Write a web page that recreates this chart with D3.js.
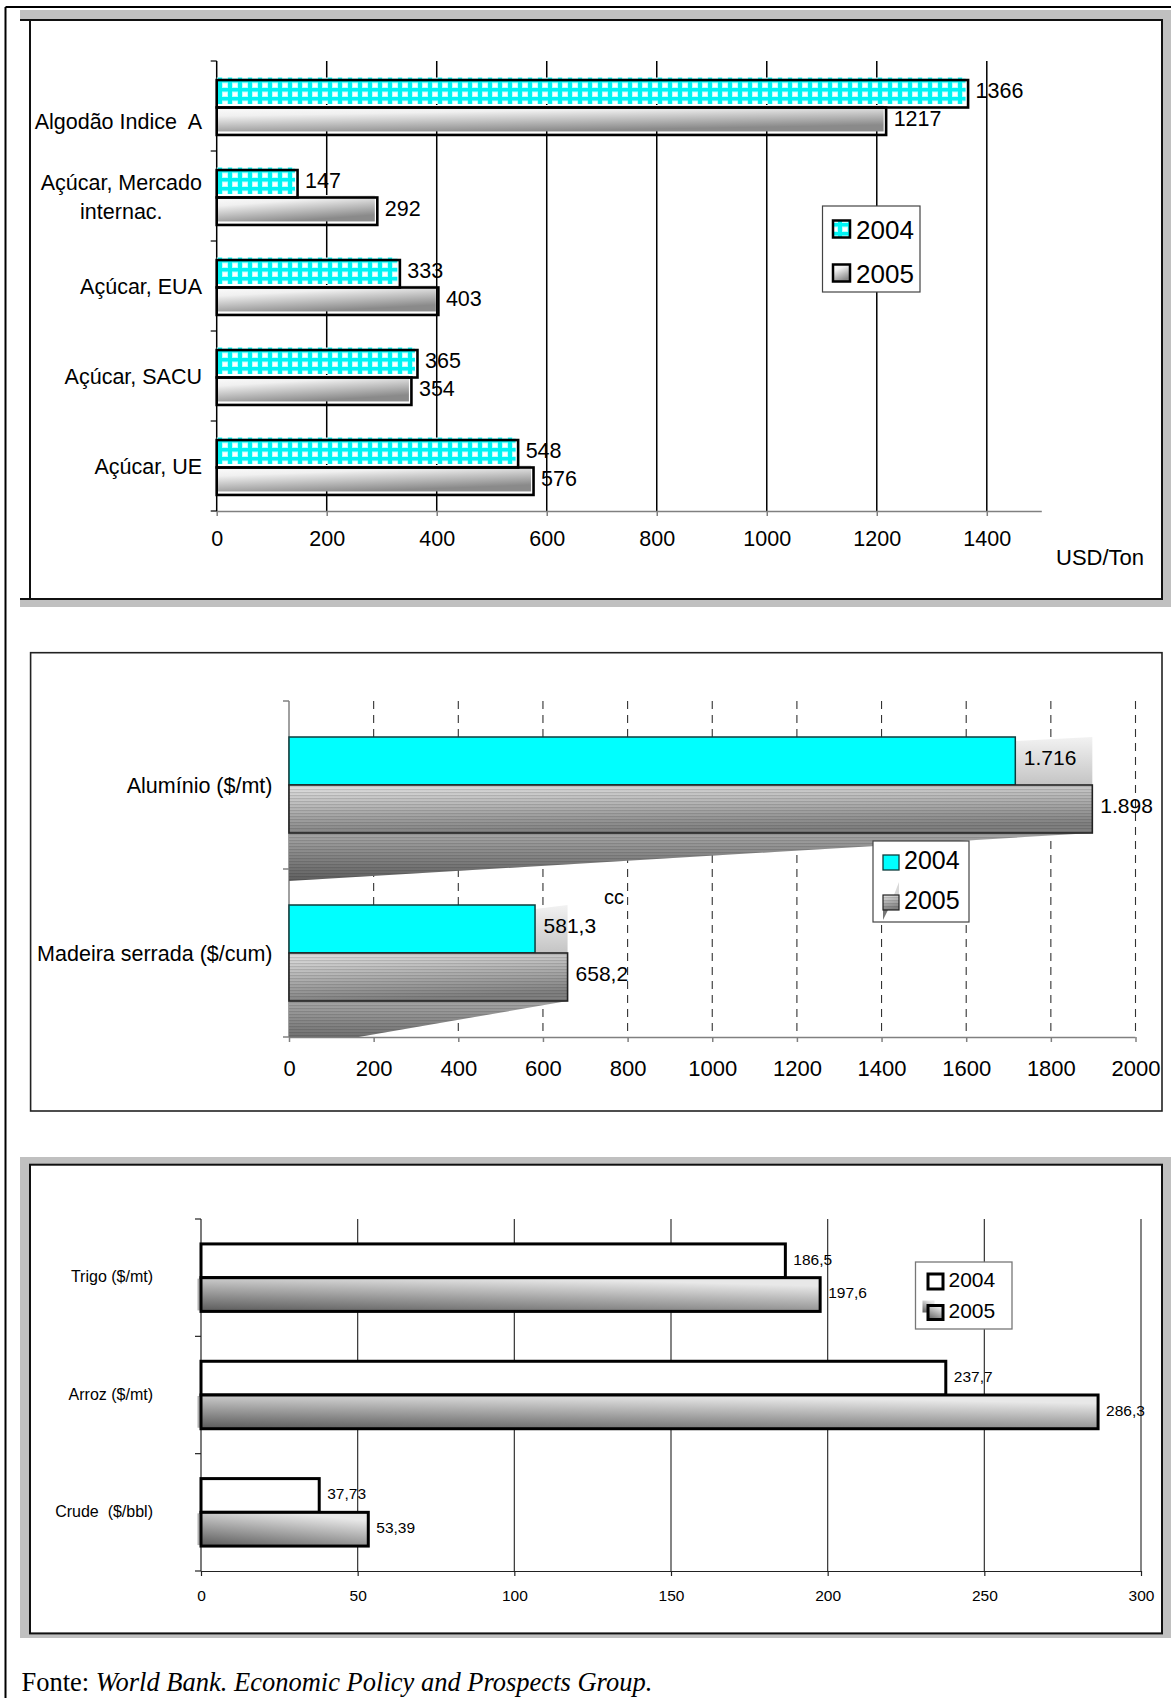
<!DOCTYPE html>
<html><head><meta charset="utf-8">
<script src="https://cdn.jsdelivr.net/npm/d3@7"></script>
<style>
body{margin:0;background:#fff}
svg{display:block;font-family:"Liberation Sans",Arial,sans-serif}
text{white-space:pre}
</style></head>
<body><svg id="c" width="1171" height="1698"></svg>
<script>
// ---------------- DATA ----------------
const series = ["2004", "2005"];

const c1Categories = ["\nAlgodão Indice  A", "Açúcar, Mercado\ninternac.", "Açúcar, EUA", "Açúcar, SACU", "Açúcar, UE"];
const c1Values2004 = [1366, 147, 333, 365, 548];
const c1Values2005 = [1217, 292, 403, 354, 576];
const c1Ticks = [0, 200, 400, 600, 800, 1000, 1200, 1400];
const c1Unit = "USD/Ton";

const c2Categories = ["Alumínio ($/mt)", "Madeira serrada ($/cum)"];
const c2Values2004 = [1716, 581.3];
const c2Values2005 = [1898, 658.2];
const c2Ticks = [0, 200, 400, 600, 800, 1000, 1200, 1400, 1600, 1800, 2000];
const c2Stray = "cc";

const c3Categories = ["Trigo ($/mt)", "Arroz ($/mt)", "Crude  ($/bbl)"];
const c3Values2004 = [186.5, 237.7, 37.73];
const c3Values2005 = [197.6, 286.3, 53.39];
const c3Ticks = [0, 50, 100, 150, 200, 250, 300];

const sourcePrefix = "Fonte: ";
const sourceText = "World Bank. Economic Policy and Prospects Group.";

// ---------------- SETUP ----------------
const svg = d3.select("#c");
const pt = d3.formatLocale({decimal: ",", thousands: ".", grouping: [3], currency: ["", ""]});
const fmt1 = pt.format("d");
const fmt2 = pt.format(",.1~f");
const fmt3 = pt.format(",.2~f");
const FONT = '"Liberation Sans",Arial,sans-serif';

const defs = svg.append("defs");
const p1 = defs.append("pattern").attr("id", "cyanGrid").attr("patternUnits", "userSpaceOnUse")
  .attr("width", 10).attr("height", 9);
p1.append("rect").attr("width", 10).attr("height", 9).attr("fill", "#00f4f4");
p1.append("rect").attr("x", 2).attr("y", 1.5).attr("width", 6).attr("height", 5.5).attr("fill", "#b8ffff");
p1.append("rect").attr("x", 3).attr("y", 2.5).attr("width", 4).attr("height", 3.5).attr("fill", "#ffffff");

function lg(id, x1, y1, x2, y2, stops) {
  const g = defs.append("linearGradient").attr("id", id)
    .attr("x1", x1).attr("y1", y1).attr("x2", x2).attr("y2", y2);
  stops.forEach(([o, c]) => g.append("stop").attr("offset", o).attr("stop-color", c));
}
lg("g1", 0, 0, 0.45, 1, [[0, "#ffffff"], [0.35, "#f0f0f0"], [1, "#8a8a8a"]]);
lg("g2", 0, 0, 0.25, 1, [[0, "#e4e4e4"], [1, "#808080"]]);
lg("g2s", 0, 0, 0, 1, [[0, "#a8a8a8"], [1, "#606060"]]);
lg("g2top", 0, 0, 0, 1, [[0, "#f2f2f2"], [1, "#c4c4c4"]]);
lg("g3", 0, 1, 0.5, 0, [[0, "#5a5a5a"], [1, "#e8e8e8"]]);
const st = defs.append("pattern").attr("id", "stripes").attr("patternUnits", "userSpaceOnUse")
  .attr("width", 6).attr("height", 3);
st.append("rect").attr("width", 6).attr("height", 1.2).attr("fill", "#000").attr("opacity", 0.13);

function txt(g, s, x, y, size, anchor) {
  return g.append("text").attr("x", x).attr("y", y).attr("dy", "0.35em")
    .attr("font-size", size).attr("text-anchor", anchor || "start").attr("fill", "#000").text(s);
}
function multiLabel(g, str, xRight, yCenter, lineH, size) {
  const lines = str.split("\n");
  const ts = lines.map((l, i) => g.append("text").text(l).attr("font-size", size)
    .attr("y", yCenter + (i - (lines.length - 1) / 2) * lineH).attr("dy", "0.35em"));
  const maxW = d3.max(ts.map(t => t.node().getComputedTextLength()));
  ts.forEach(t => t.attr("x", xRight - maxW / 2).attr("text-anchor", "middle"));
}

// ---------------- PAGE FRAME ----------------
svg.append("line").attr("x1", 5.5).attr("y1", 7).attr("x2", 1171).attr("y2", 7).attr("stroke", "#000").attr("stroke-width", 2);
svg.append("line").attr("x1", 5.5).attr("y1", 7).attr("x2", 5.5).attr("y2", 1698).attr("stroke", "#000").attr("stroke-width", 2);

// ================= CHART 1 =================
{
  const g = svg.append("g");
  g.append("rect").attr("x", 20).attr("y", 10).attr("width", 1151).attr("height", 10).attr("fill", "#c0c0c0");
  g.append("rect").attr("x", 1162).attr("y", 10).attr("width", 9).attr("height", 597).attr("fill", "#c0c0c0");
  g.append("rect").attr("x", 20).attr("y", 599).attr("width", 1151).attr("height", 8).attr("fill", "#c0c0c0");
  g.append("line").attr("x1", 20).attr("x2", 1163).attr("y1", 20).attr("y2", 20).attr("stroke", "#111").attr("stroke-width", 2);
  g.append("line").attr("x1", 20).attr("x2", 1163).attr("y1", 599).attr("y2", 599).attr("stroke", "#111").attr("stroke-width", 2);
  g.append("line").attr("x1", 30).attr("x2", 30).attr("y1", 20).attr("y2", 599).attr("stroke", "#111").attr("stroke-width", 2);
  g.append("line").attr("x1", 1162).attr("x2", 1162).attr("y1", 20).attr("y2", 599).attr("stroke", "#111").attr("stroke-width", 2);

  const x = d3.scaleLinear().domain([0, 1500]).range([216.7, 1041.8]);
  const y = d3.scaleBand().domain(c1Categories).range([62.5, 512.5]).paddingInner(0.39).paddingOuter(0.195);
  const sub = d3.scaleBand().domain(series).range([0, y.bandwidth()]);
  const top = 61, bot = 511;

  g.selectAll(".grid").data(c1Ticks.filter(d => d > 0)).join("line")
    .attr("x1", d => x(d)).attr("x2", d => x(d)).attr("y1", top).attr("y2", bot)
    .attr("stroke", "#000").attr("stroke-width", 1.5);
  const ax = g.append("g").attr("transform", `translate(0,${bot})`)
    .call(d3.axisBottom(x).tickValues(c1Ticks).tickSize(5).tickPadding(14.3).tickFormat(fmt1));
  ax.select(".domain").attr("stroke", "#808080").attr("stroke-width", 1.5).attr("d", `M${x(0)},0.5H${x(1500)}`);
  ax.selectAll(".tick line").attr("stroke", "#808080").attr("stroke-width", 1.5);
  ax.selectAll(".tick text").attr("font-size", 21.5).attr("font-family", FONT).attr("fill", "#000");
  g.append("line").attr("x1", x(0)).attr("x2", x(0)).attr("y1", top).attr("y2", bot).attr("stroke", "#000").attr("stroke-width", 1.5);
  const bounds = c1Categories.map((c, i) => top + i * (bot - top) / c1Categories.length).concat([bot]);
  g.selectAll(".lt").data(bounds).join("line").attr("x1", x(0) - 6).attr("x2", x(0)).attr("y1", d => d).attr("y2", d => d)
    .attr("stroke", "#000").attr("stroke-width", 1.2);

  c1Categories.forEach((cat, i) => {
    const vals = [c1Values2004[i], c1Values2005[i]];
    const fills = ["url(#cyanGrid)", "url(#g1)"];
    series.forEach((s, j) => {
      const y0 = y(cat) + sub(s), h = sub.bandwidth();
      g.append("rect").attr("x", x(0)).attr("y", y0 - 2.5).attr("width", x(vals[j]) - x(0) - 2.5).attr("height", h - 1)
        .attr("fill", fills[j]);
    });
    series.forEach((s, j) => {
      const y0 = y(cat) + sub(s), h = sub.bandwidth();
      g.append("rect").attr("x", x(0)).attr("y", y0).attr("width", x(vals[j]) - x(0)).attr("height", h)
        .attr("fill", "none").attr("stroke", "#000").attr("stroke-width", 2.6);
    });
    series.forEach((s, j) => {
      const y0 = y(cat) + sub(s), h = sub.bandwidth();
      txt(g, fmt1(vals[j]), x(vals[j]) + 7.5, y0 + h / 2 - 3, 21.5);
    });
    multiLabel(g, cat, 202, y(cat) + y.bandwidth() / 2 - 1, 29, 21.5);
  });

  txt(g, c1Unit, 1056, 557, 22);

  const L = g.append("g");
  L.append("rect").attr("x", 822.5).attr("y", 206).attr("width", 97.5).attr("height", 86).attr("fill", "#fff").attr("stroke", "#444").attr("stroke-width", 1.2);
  const lf = ["url(#cyanGrid)", "url(#g1)"];
  series.forEach((s, j) => {
    const cy = 229.5 + j * 44;
    L.append("rect").attr("x", 833).attr("y", cy - 9).attr("width", 17).attr("height", 17).attr("fill", lf[j]).attr("stroke", "#000").attr("stroke-width", 2.5);
    txt(L, s, 856, cy, 26);
  });
}

// ================= CHART 2 =================
{
  const g = svg.append("g");
  g.append("rect").attr("x", 30.6).attr("y", 652.7).attr("width", 1131.4).attr("height", 458.3)
    .attr("fill", "#fff").attr("stroke", "#222").attr("stroke-width", 1.6);

  const x = d3.scaleLinear().domain([0, 2000]).range([289, 1135.5]);
  const y = d3.scaleBand().domain(c2Categories).range([701, 1037]).paddingInner(0.4286).paddingOuter(0.2143);
  const sub = d3.scaleBand().domain(series).range([0, y.bandwidth()]);
  const top = 701, bot = 1037;

  g.selectAll(".grid").data(c2Ticks.filter(d => d > 0)).join("line")
    .attr("x1", d => x(d)).attr("x2", d => x(d)).attr("y1", top).attr("y2", bot)
    .attr("stroke", "#333").attr("stroke-width", 1.1).attr("stroke-dasharray", "8,6");

  const ax = g.append("g").attr("transform", `translate(0,${bot})`)
    .call(d3.axisBottom(x).tickValues(c2Ticks).tickSize(5).tickPadding(18).tickFormat(d3.format("d")));
  ax.select(".domain").attr("stroke", "#808080").attr("stroke-width", 1.5).attr("d", `M${x(0)},0.5H${x(2000)}`);
  ax.selectAll(".tick line").attr("stroke", "#808080").attr("stroke-width", 1.5);
  ax.selectAll(".tick text").attr("font-size", 22).attr("font-family", FONT).attr("fill", "#000");

  g.append("line").attr("x1", x(0)).attr("x2", x(0)).attr("y1", top).attr("y2", bot).attr("stroke", "#808080").attr("stroke-width", 1.5);
  const bounds = [top, top + (bot - top) / 2, bot];
  g.selectAll(".lt").data(bounds).join("line").attr("x1", x(0) - 6).attr("x2", x(0)).attr("y1", d => d).attr("y2", d => d)
    .attr("stroke", "#808080").attr("stroke-width", 1.5);

  g.append("clipPath").attr("id", "clip2").append("rect").attr("x", x(0)).attr("y", top).attr("width", x(2000) - x(0)).attr("height", bot - top);

  c2Categories.forEach((cat, i) => {
    const v4 = c2Values2004[i], v5 = c2Values2005[i];
    const y4 = y(cat) + sub("2004"), y5 = y(cat) + sub("2005"), h = sub.bandwidth();
    const x0 = x(0), e4 = x(v4), e5 = x(v5);
    const sh = g.append("g").attr("clip-path", "url(#clip2)");
    const pts = [[x0, y5 + h], [e5, y5 + h], [x0, y5 + 2 * h]].map(p => p.join(",")).join(" ");
    sh.append("polygon").attr("points", pts).attr("fill", "url(#g2s)");
    sh.append("polygon").attr("points", pts).attr("fill", "url(#stripes)");
    const tp = [[e4, y4 + 4], [e5, y4], [e5, y4 + h], [e4, y4 + h]].map(p => p.join(",")).join(" ");
    g.append("polygon").attr("points", tp).attr("fill", "url(#g2top)");
    g.append("rect").attr("x", x0).attr("y", y4).attr("width", e4 - x0).attr("height", h)
      .attr("fill", "#00ffff").attr("stroke", "#0d3d3d").attr("stroke-width", 1.5);
    g.append("rect").attr("x", x0).attr("y", y5).attr("width", e5 - x0).attr("height", h).attr("fill", "url(#g2)");
    g.append("rect").attr("x", x0).attr("y", y5).attr("width", e5 - x0).attr("height", h)
      .attr("fill", "url(#stripes)").attr("stroke", "#222").attr("stroke-width", 1.6);
    txt(g, fmt2(v4), e4 + 8.5, y4 + h / 2 - 3, 21);
    txt(g, fmt2(v5), e5 + 8, y5 + h / 2 - 3, 21);
    txt(g, cat, x0 - 16.5, y(cat) + y.bandwidth() / 2, 21.5, "end");
  });

  txt(g, c2Stray, 604, 897, 20);

  const L = g.append("g");
  L.append("rect").attr("x", 873).attr("y", 841).attr("width", 96).attr("height", 81).attr("fill", "#fff").attr("stroke", "#444").attr("stroke-width", 1.2);
  L.append("rect").attr("x", 883).attr("y", 855).attr("width", 16).attr("height", 15).attr("fill", "#00ffff").attr("stroke", "#0d3d3d").attr("stroke-width", 1.3);
  txt(L, "2004", 904, 860.5, 25);
  L.append("polygon").attr("points", "894,895 899,882 899,895").attr("fill", "#d8d8d8");
  L.append("polygon").attr("points", "883,910 888,910 883,920").attr("fill", "#777");
  L.append("rect").attr("x", 883).attr("y", 895).attr("width", 16).attr("height", 15).attr("fill", "url(#g2)");
  L.append("rect").attr("x", 883).attr("y", 895).attr("width", 16).attr("height", 15).attr("fill", "url(#stripes)").attr("stroke", "#222").attr("stroke-width", 1.2);
  txt(L, "2005", 904, 900.5, 25);
}

// ================= CHART 3 =================
{
  const g = svg.append("g");
  g.append("rect").attr("x", 20).attr("y", 1157).attr("width", 1151).attr("height", 481).attr("fill", "#c0c0c0");
  g.append("rect").attr("x", 30).attr("y", 1164.7).attr("width", 1132).attr("height", 468.7)
    .attr("fill", "#fff").attr("stroke", "#111").attr("stroke-width", 2);

  const x = d3.scaleLinear().domain([0, 300]).range([201, 1141]);
  const y = d3.scaleBand().domain(c3Categories).range([1219, 1571]).paddingInner(0.425).paddingOuter(0.2125);
  const sub = d3.scaleBand().domain(series).range([0, y.bandwidth()]);
  const top = 1219, bot = 1571;

  g.selectAll(".grid").data(c3Ticks.filter(d => d > 0)).join("line")
    .attr("x1", d => x(d)).attr("x2", d => x(d)).attr("y1", top).attr("y2", bot)
    .attr("stroke", "#333").attr("stroke-width", 1.2);

  const ax = g.append("g").attr("transform", `translate(0,${bot})`)
    .call(d3.axisBottom(x).tickValues(c3Ticks).tickSize(5).tickPadding(14).tickFormat(d3.format("d")));
  ax.select(".domain").attr("stroke", "#222").attr("stroke-width", 1.2).attr("d", `M${x(0)},0.5H${x(300)}`);
  ax.selectAll(".tick line").attr("stroke", "#222").attr("stroke-width", 1.2);
  ax.selectAll(".tick text").attr("font-size", 15.5).attr("font-family", FONT).attr("fill", "#000");

  g.append("line").attr("x1", x(0)).attr("x2", x(0)).attr("y1", top).attr("y2", bot).attr("stroke", "#222").attr("stroke-width", 1.2);
  const bounds = c3Categories.map((c, i) => top + i * (bot - top) / c3Categories.length).concat([bot]);
  g.selectAll(".lt").data(bounds).join("line").attr("x1", x(0) - 6).attr("x2", x(0)).attr("y1", d => d).attr("y2", d => d)
    .attr("stroke", "#222").attr("stroke-width", 1.2);

  c3Categories.forEach((cat, i) => {
    const v4 = c3Values2004[i], v5 = c3Values2005[i];
    const y4 = y(cat) + sub("2004"), y5 = y(cat) + sub("2005"), h = sub.bandwidth();
    const x0 = x(0);
    g.append("rect").attr("x", x0 - 3.5).attr("y", y5 + 1).attr("width", 4).attr("height", h - 2).attr("fill", "#b0b0b0");
    g.append("rect").attr("x", x0).attr("y", y4).attr("width", x(v4) - x0).attr("height", h)
      .attr("fill", "#fff").attr("stroke", "#000").attr("stroke-width", 3);
    g.append("rect").attr("x", x0).attr("y", y5).attr("width", x(v5) - x0).attr("height", h)
      .attr("fill", "url(#g3)").attr("stroke", "#000").attr("stroke-width", 3);
    txt(g, fmt3(v4), x(v4) + 8, y4 + h / 2 - 1.5, 15.5);
    txt(g, fmt3(v5), x(v5) + 8, y5 + h / 2 - 1.5, 15.5);
    txt(g, cat, 153, y(cat) + y.bandwidth() / 2 - 1, 16, "end");
  });

  const L = g.append("g");
  L.append("rect").attr("x", 915.5).attr("y", 1262).attr("width", 96.5).attr("height", 67).attr("fill", "#fff").attr("stroke", "#777").attr("stroke-width", 1.3);
  L.append("rect").attr("x", 928).attr("y", 1274).attr("width", 15).attr("height", 15).attr("fill", "#fff").attr("stroke", "#000").attr("stroke-width", 3);
  txt(L, "2004", 948.5, 1279.5, 21);
  L.append("rect").attr("x", 922.5).attr("y", 1300.5).attr("width", 12).attr("height", 12).attr("fill", "url(#g3)");
  L.append("rect").attr("x", 928).attr("y", 1305.5).attr("width", 15).attr("height", 14).attr("fill", "url(#g3)").attr("stroke", "#000").attr("stroke-width", 3);
  txt(L, "2005", 948.5, 1311, 21);
}

// ================= SOURCE =================
{
  const t = svg.append("text").attr("x", 21.5).attr("y", 1682).attr("dy", "0.35em")
    .attr("font-family", '"Liberation Serif","Times New Roman",serif').attr("font-size", 26.5).attr("fill", "#000");
  t.append("tspan").text(sourcePrefix);
  t.append("tspan").attr("font-style", "italic").text(sourceText);
}
</script>
</body></html>
